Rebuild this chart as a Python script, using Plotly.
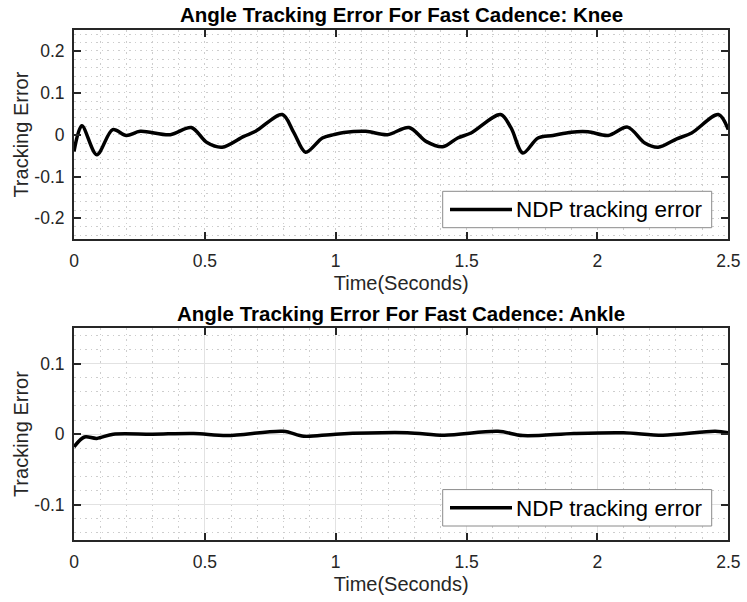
import plotly.graph_objects as go

# Knee tracking error (time in seconds, error)
knee_t = [0.0, 0.03, 0.087, 0.148, 0.20, 0.253, 0.368, 0.448, 0.508, 0.566, 0.649, 0.694,
          0.796, 0.84, 0.885, 0.949, 0.993, 1.031, 1.115, 1.198, 1.28, 1.345, 1.409, 1.466,
          1.517, 1.63, 1.67, 1.715, 1.773, 1.83, 1.90, 1.964, 2.041, 2.115, 2.181, 2.232,
          2.303, 2.36, 2.462, 2.5]
knee_err = [-0.040, 0.021, -0.048, 0.012, -0.002, 0.008, 0.000, 0.017, -0.019, -0.030, -0.004, 0.008,
            0.048, 0.005, -0.042, -0.008, 0.000, 0.005, 0.008, 0.000, 0.017, -0.016, -0.029, -0.008,
            0.004, 0.048, 0.016, -0.044, -0.008, -0.002, 0.006, 0.007, -0.002, 0.018, -0.020, -0.030,
            -0.010, 0.004, 0.048, 0.012]

# Ankle tracking error
ankle_t = [0.0, 0.04, 0.087, 0.15, 0.30, 0.457, 0.585, 0.80, 0.878, 1.0, 1.274, 1.415,
           1.62, 1.715, 1.91, 2.10, 2.25, 2.45, 2.5]
ankle_err = [-0.018, -0.004, -0.006, 0.000, 0.000, 0.001, -0.002, 0.004, -0.003, 0.000, 0.002, -0.0015,
             0.004, -0.002, 0.001, 0.002, -0.0015, 0.004, 0.002]

series_name = "NDP tracking error"
titles = ["Angle Tracking Error For Fast Cadence: Knee",
          "Angle Tracking Error For Fast Cadence: Ankle"]
x_label = "Time(Seconds)"
y_label = "Tracking Error"

W, H = 747, 602
FONT = "Liberation Sans, Arial, Helvetica, sans-serif"
AX = "#262626"
DOT = "#cdcdcd"
MAJ = "#e2e2e2"
DOTDASH = "1.5px,4px"

def px_x(p):
    return p / W

def px_y(p):
    return 1 - p / H

fig = go.Figure()
fig.add_trace(go.Scatter(x=knee_t, y=knee_err, mode="lines", name=series_name,
                         line=dict(color="black", width=3.5, shape="spline", smoothing=0.9),
                         xaxis="x", yaxis="y", showlegend=False))
fig.add_trace(go.Scatter(x=ankle_t, y=ankle_err, mode="lines", name=series_name,
                         line=dict(color="black", width=3.5, shape="spline", smoothing=0.9),
                         xaxis="x2", yaxis="y2", showlegend=False))

xdom = [px_x(74), px_x(728.3)]
ydom1 = [px_y(239.3), px_y(30)]
ydom2 = [px_y(540), px_y(328.3)]

def xaxis(anchor, major_grid):
    return dict(domain=xdom, anchor=anchor, range=[0, 2.5], tickvals=[0, 0.5, 1, 1.5, 2, 2.5],
                ticktext=["0", "0.5", "1", "1.5", "2", "2.5"], automargin=False,
                showline=True, linecolor=AX, linewidth=2, mirror="allticks",
                ticks="inside", ticklen=7, tickwidth=1.5, tickcolor=AX,
                tickfont=dict(family=FONT, size=17.5, color=AX),
                ticklabelstandoff=5,
                showgrid=True,
                gridcolor=MAJ if major_grid else DOT, gridwidth=1,
                griddash="solid" if major_grid else DOTDASH,
                minor=dict(dtick=0.1, tick0=0, showgrid=True, gridcolor=DOT,
                           griddash=DOTDASH, gridwidth=1, ticks=""),
                zeroline=False,
                title=dict(text=x_label, font=dict(family=FONT, size=20, color=AX), standoff=6))

def yaxis(anchor, dom, rng, vals, texts, major_grid):
    return dict(domain=dom, anchor=anchor, range=rng, tickvals=vals, ticktext=texts,
                automargin=False,
                showline=True, linecolor=AX, linewidth=2, mirror="allticks",
                ticks="inside", ticklen=7, tickwidth=1.5, tickcolor=AX,
                tickfont=dict(family=FONT, size=17.5, color=AX),
                ticklabelstandoff=4,
                showgrid=True,
                gridcolor=MAJ if major_grid else DOT, gridwidth=1,
                griddash="solid" if major_grid else DOTDASH,
                minor=dict(dtick=0.02, tick0=0, showgrid=True, gridcolor=DOT,
                           griddash=DOTDASH, gridwidth=1, ticks=""),
                zeroline=False,
                title=dict(text=y_label, font=dict(family=FONT, size=20, color=AX), standoff=0))

fig.update_layout(
    width=W, height=H,
    margin=dict(l=0, r=0, t=0, b=0, autoexpand=False),
    paper_bgcolor="white", plot_bgcolor="white",
    xaxis=xaxis("y", False),
    yaxis=yaxis("x", ydom1, [-0.25, 0.25], [-0.2, -0.1, 0, 0.1, 0.2],
                ["-0.2", "-0.1", "0", "0.1", "0.2"], False),
    xaxis2=xaxis("y2", True),
    yaxis2=yaxis("x2", ydom2, [-0.15, 0.15], [-0.1, 0, 0.1], ["-0.1", "0", "0.1"], True),
)

# Subplot titles
for title, yc in zip(titles, [14.5, 313]):
    fig.add_annotation(text="<b>%s</b>" % title, x=(xdom[0] + xdom[1]) / 2, y=px_y(yc),
                       xref="paper", yref="paper", xanchor="center", yanchor="middle",
                       showarrow=False, font=dict(family=FONT, size=20.5, color="black"))

# Legend boxes (one per panel)
for top in [191.3, 489.6]:
    bottom = top + 36.4
    mid = (top + bottom) / 2
    fig.add_shape(type="rect", xref="paper", yref="paper",
                  x0=px_x(442.7), x1=px_x(711.7), y0=px_y(bottom), y1=px_y(top),
                  line=dict(color="#8a8a8a", width=1), fillcolor="white", layer="above")
    fig.add_shape(type="line", xref="paper", yref="paper",
                  x0=px_x(450), x1=px_x(512), y0=px_y(mid), y1=px_y(mid),
                  line=dict(color="black", width=3.5), layer="above")
    fig.add_annotation(text=series_name, x=px_x(514), y=px_y(mid + 0.5),
                       xref="paper", yref="paper", xanchor="left", yanchor="middle",
                       showarrow=False, font=dict(family=FONT, size=22.5, color="black"))

fig.write_html("out.html")
